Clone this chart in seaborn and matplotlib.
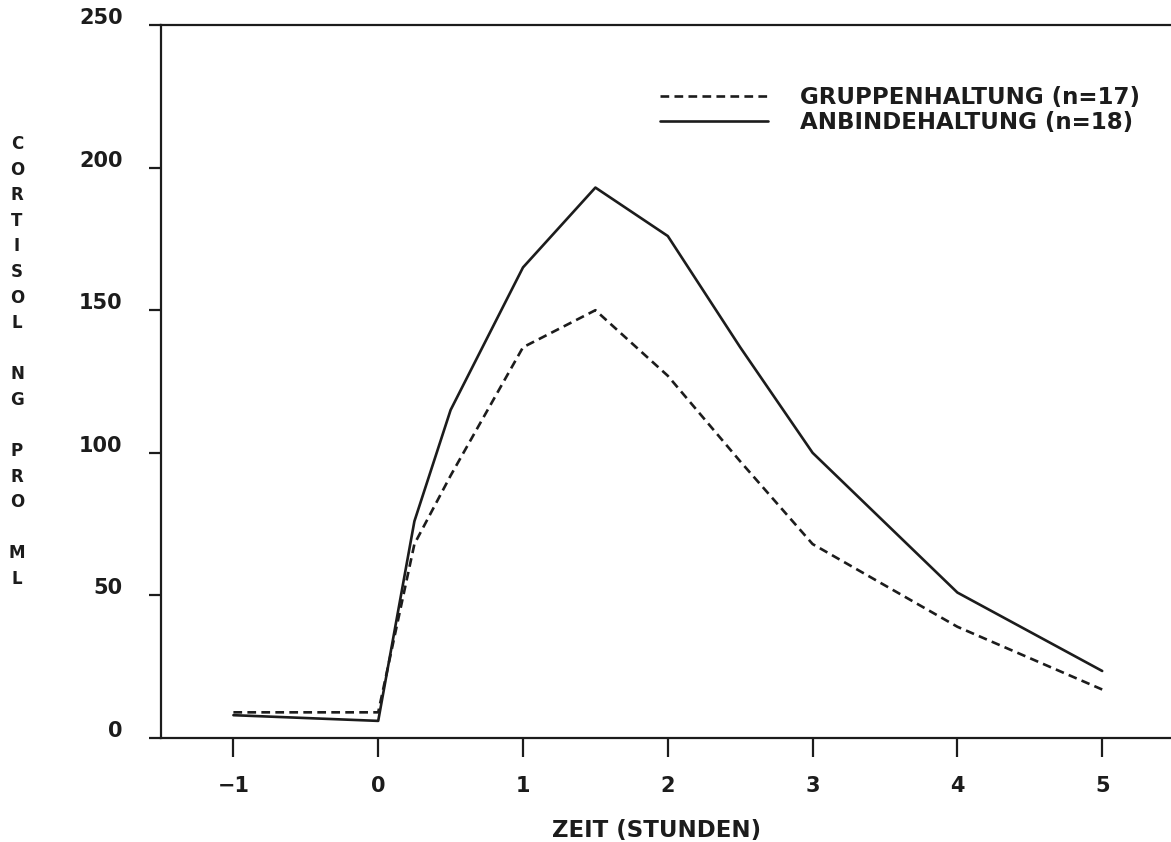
import matplotlib
matplotlib.use("Agg")
import matplotlib.pyplot as plt
from matplotlib.transforms import ScaledTranslation
import pandas as pd
import seaborn as sns

# Messzeitpunkte (Stunden) und mittlere Cortisolwerte (ng/ml)
zeit = [-1, 0, 0.25, 0.5, 1, 1.5, 2, 2.5, 3, 4, 5]
gruppenhaltung = [9, 9, 68, 92, 137, 150, 127, 97, 68, 39, 17]
anbindehaltung = [8, 6, 76, 115, 165, 193, 176, 137, 100, 51, 23.5]

label_gruppe = "GRUPPENHALTUNG (n=17)"
label_anbinde = "ANBINDEHALTUNG (n=18)"

x_ticks = [-1, 0, 1, 2, 3, 4, 5]
x_ticklabels = ["\u22121", "0", "1", "2", "3", "4", "5"]
y_ticks = [0, 50, 100, 150, 200, 250]
y_ticklabels = ["0", "50", "100", "150", "200", "250"]

sns.set_style("ticks")
plt.rcParams["font.family"] = ["DejaVu Sans"]
plt.rcParams["font.weight"] = "bold"
ink = "#1c1c1c"
plt.rcParams["text.color"] = ink

df = pd.DataFrame({
    "zeit": zeit + zeit,
    "cortisol": gruppenhaltung + anbindehaltung,
    "gruppe": [label_gruppe] * len(zeit) + [label_anbinde] * len(zeit),
})

W, H = 1171, 842
fig = plt.figure(figsize=(W / 100, H / 100), dpi=100)
ax = fig.add_axes([161 / W, 104 / H, (1174.6 - 161) / W, 713 / H])

sns.lineplot(
    data=df, x="zeit", y="cortisol", style="gruppe",
    style_order=[label_gruppe, label_anbinde],
    dashes={label_gruppe: (3.3, 2.0), label_anbinde: ""},
    color=ink, linewidth=1.9, errorbar=None, ax=ax,
)

ax.set_xlim(-1.5, 5.5)
ax.set_ylim(0, 250)

for side in ("left", "bottom", "top"):
    ax.spines[side].set_linewidth(1.6)
    ax.spines[side].set_color(ink)
ax.spines["right"].set_visible(False)

ax.set_xticks(x_ticks)
ax.set_xticklabels(x_ticklabels, fontsize=15, fontweight="bold")
ax.set_yticks(y_ticks)
ax.set_yticklabels(y_ticklabels, fontsize=15, fontweight="bold")
ax.tick_params(axis="x", length=13.5, width=1.6, pad=14, color=ink, labelcolor=ink)
ax.tick_params(axis="y", length=8.6, width=1.6, pad=19, color=ink, labelcolor=ink)

# y tick labels sit a little above their tick marks
lift = ScaledTranslation(0, 9 / 100, fig.dpi_scale_trans)
for lbl in ax.get_yticklabels():
    lbl.set_transform(lbl.get_transform() + lift)

ax.set_xlabel("ZEIT (STUNDEN)", fontsize=16.5, fontweight="bold", color=ink)
ax.xaxis.label.set_va("center")
ax.xaxis.set_label_coords((657 - 161) / 1013.6, (738 - 830) / 713)

ylab = "C\nO\nR\nT\nI\nS\nO\nL\n\nN\nG\n\nP\nR\nO\n\nM\nL"
ax.set_ylabel(ylab, rotation=0, fontsize=12, fontweight="bold",
              linespacing=1.54, color=ink, ha="center", va="center")
ax.yaxis.set_label_coords((17 - 161) / 1013.6, (738 - 361.5) / 713)

ax.legend(
    loc="upper left", bbox_to_anchor=(660 / W, 1 - 86 / H),
    bbox_transform=fig.transFigure, frameon=False, fontsize=16.5,
    handlelength=4.7, handletextpad=1.4, labelspacing=0.1,
    borderpad=0, borderaxespad=0,
)

fig.savefig("out.png", dpi=100, facecolor="white")
